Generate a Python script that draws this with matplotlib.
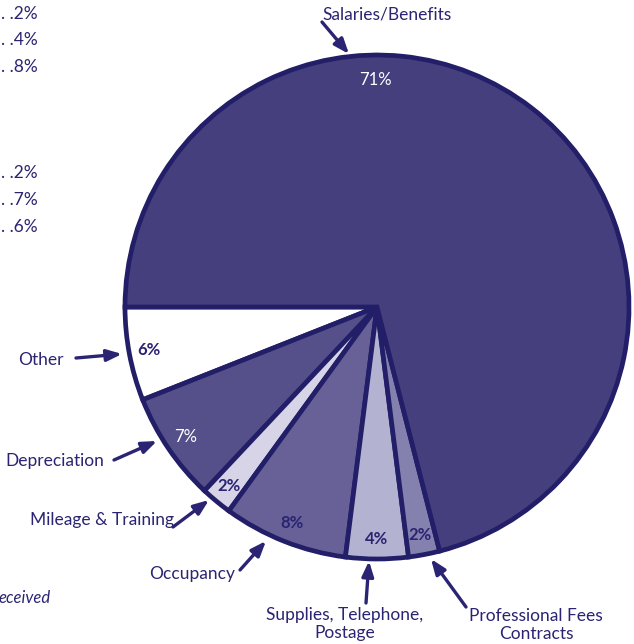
#grafica de gastos (pastel)

import numpy as np
import matplotlib.pyplot as plt

plt.rcParams['font.family'] = ['Lato', 'DejaVu Sans']

# datos
categorias = ['Other', 'Depreciation', 'Mileage & Training', 'Occupancy',
              'Supplies, Telephone,\nPostage', 'Professional Fees\nContracts',
              'Salaries/Benefits']
porcentajes = [6, 7, 2, 8, 4, 2, 71]
colores = ['#FFFFFF', '#554F8A', '#D6D4E6', '#676198', '#B4B2D1', '#8481AF', '#463F7E']
color_pct = ['#2A2472', '#FFFFFF', '#2A2472', '#2A2472', '#2A2472', '#2A2472', '#FFFFFF']
negrita = [True, False, True, True, True, True, False]

# restos de la tabla de la izquierda (cortada)
tabla_izq = ['. .2%', '. .4%', '. .8%', '. .2%', '. .7%', '. .6%']
tabla_y = [14, 40, 67, 173, 200, 227]

# etiquetas: posicion del texto y punta de la flecha (pixeles de la imagen)
texto_xy = [(41, 360), (55, 461), (102, 520), (192, 574), (345, 624), (536, 625), (387, 14)]
flecha_ini = [(76, 358), (114, 460), (173, 527), (240, 570), (366, 603), (466, 607), (322, 22)]
flecha_fin = [(122, 354), (157, 441), (209, 500), (266, 541), (369, 561), (431, 559), (349, 54)]

navy = '#2A2472'
H = 644

def y(v):
    # convertir y de imagen a y de datos
    return H - v

fig = plt.figure(figsize=(6.34, 6.44), dpi=100)
ax = fig.add_axes([0, 0, 1, 1])

wedges, textos, pcts = ax.pie(porcentajes, colors=colores, startangle=180,
                              counterclock=True, center=(377, y(307)), radius=252,
                              autopct='%d%%', pctdistance=0.92,
                              wedgeprops=dict(edgecolor='#231E68', linewidth=3.4),
                              textprops=dict(fontsize=10))

for i, t in enumerate(pcts):
    t.set_color(color_pct[i])
    t.set_fontweight('bold' if negrita[i] else 'normal')
    t.set_fontsize(12)
# el 71% va arriba
pcts[-1].set_position((375, y(80)))

for i, nombre in enumerate(categorias):
    ax.annotate('', xy=(flecha_fin[i][0], y(flecha_fin[i][1])),
                xytext=(flecha_ini[i][0], y(flecha_ini[i][1])),
                arrowprops=dict(arrowstyle='-|>,head_length=0.9,head_width=0.35',
                                color=navy, lw=2.4, shrinkA=0, shrinkB=0))
    ax.text(texto_xy[i][0], y(texto_xy[i][1]), nombre, ha='center', va='center',
            fontsize=12.5, color=navy, linespacing=1.15)

for txt, ty in zip(tabla_izq, tabla_y):
    ax.text(1, y(ty), txt, ha='left', va='center', fontsize=12.5, color=navy)

ax.text(-1, y(598), 'eceived', ha='left', va='center', fontsize=12, color=navy,
        style='italic')

ax.set_xlim(0, 634)
ax.set_ylim(0, H)
ax.set_aspect('equal')
ax.axis('off')

fig.savefig('out.png', dpi=100)
